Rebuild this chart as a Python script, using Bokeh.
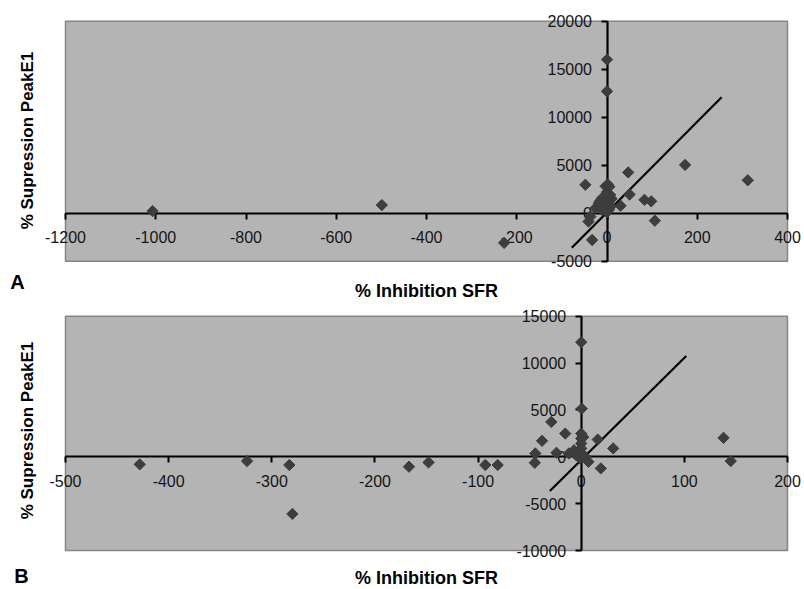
import numpy as np
from bokeh.plotting import figure
from bokeh.layouts import column
from bokeh.models import FixedTicker, Label, Range1d, ColumnDataSource
from bokeh.embed import file_html
from bokeh.resources import INLINE

# ---------------- Panel A data ----------------
a_x = [-1007, -499, -228, -48, -41, -37, -33, -26, -18, -11, -11, -4, -3, 0, 0, 0,
       2, 4, 4, 5, 7, 30, 47, 50, 83, 98, 106, 173, 312, 0, -6, 8, -15, 10, 0]
a_y = [220, 850, -3090, 2960, -870, -350, -2790, 520, 1050, 1570, 350, 870, 2800,
       16000, 12700, 1570, 3000, 1220, 350, 2750, 1900, 780, 4250, 1950, 1390, 1240,
       -780, 5030, 3430, 100, 600, 700, 1300, 1500, 2200]
a_xticks = [-1200, -1000, -800, -600, -400, -200, 0, 200, 400]
a_yticks = [-5000, 0, 5000, 10000, 15000, 20000]
a_xlim = (-1200, 400)
a_ylim = (-5000, 20000)
a_fit_slope, a_fit_intercept = 47.2, 80
a_fit_xspan = [-78, 254]

# ---------------- Panel B data ----------------
b_x = [-428, -324, -283, -280, -167, -148, -93, -81, -44.5, -45, -38, -29, -24,
       -15.5, -12, -5, 0, 0.5, 0, 0, 0, 0, 0, -1, 4, 7, 16, 19, 31, 138, 145, -7, 2]
b_y = [-810, -460, -880, -6100, -1060, -600, -880, -880, 355, -640, 1700, 3720, 425,
       2480, 355, 180, 12230, 5140, 2480, 1950, 1420, 890, 355, -180, 0, -530, 1840,
       -1240, 890, 2020, -460, 700, 2100]
b_xticks = [-500, -400, -300, -200, -100, 0, 100, 200]
b_yticks = [-10000, -5000, 0, 5000, 10000, 15000]
b_xlim = (-500, 200)
b_ylim = (-10000, 15000)
b_fit_slope, b_fit_intercept = 108.9, -340
b_fit_xspan = [-30.4, 101.8]

x_title = "% Inhibition SFR"
y_title = "% Supression PeakE1"

FONT = "Liberation Sans"
BG = "#b4b4b4"
MARK = "#3d3d3d"
W = 804


def panel(xs, ys, xlim, ylim, xticks, yticks, slope, intercept, xspan, letter,
          fig_h, box, letter_px, xlabel_px, ylabel_px):
    left, right, top, bottom = box
    sx = (right - left) / (xlim[1] - xlim[0])
    sy = (bottom - top) / (ylim[1] - ylim[0])
    x0 = xlim[0] - left / sx
    x1 = xlim[1] + (W - right) / sx
    y1 = ylim[1] + top / sy
    y0 = ylim[0] - (fig_h - bottom) / sy

    def dx(px):
        return x0 + px / sx

    def dy(py):
        return y1 - py / sy

    p = figure(output_backend="svg", toolbar_location=None,
               width=W, height=fig_h, min_border=0,
               x_range=Range1d(x0, x1), y_range=Range1d(y0, y1))
    p.background_fill_color = "white"
    p.border_fill_color = "white"
    p.outline_line_color = None
    p.grid.visible = False

    # gray plot area
    p.quad(left=[xlim[0]], right=[xlim[1]], bottom=[ylim[0]], top=[ylim[1]],
           fill_color=BG, line_color="#858585", line_width=1.5)

    for ax, ticks in ((p.xaxis[0], xticks), (p.yaxis[0], yticks)):
        ax.fixed_location = 0
        ax.ticker = FixedTicker(ticks=ticks)
        ax.major_label_overrides = {t: str(t) for t in ticks}
        ax.axis_line_color = "black"
        ax.axis_line_width = 2.2
        ax.major_tick_line_color = "black"
        ax.major_tick_line_width = 2
        ax.major_tick_out = 6
        ax.major_tick_in = 0
        ax.minor_tick_line_color = None
        ax.major_label_text_font = FONT
        ax.major_label_text_font_size = "16px"
        ax.major_label_text_color = "#151515"
    p.xaxis.bounds = xlim
    p.yaxis.bounds = ylim
    p.xaxis.major_label_standoff = 12
    p.yaxis.major_label_standoff = 9

    fx = np.array(xspan, dtype=float)
    fy = slope * fx + intercept
    p.line(fx, fy, line_color="black", line_width=2.2)

    src = ColumnDataSource(dict(x=xs, y=ys))
    p.scatter("x", "y", source=src, marker="square", angle=np.pi / 4,
              size=8, fill_color=MARK, line_color=MARK, level="overlay")

    p.add_layout(Label(x=dx(letter_px[0]), y=dy(letter_px[1]),
                       text=letter, text_font=FONT, text_font_size="20px",
                       text_font_style="bold", text_align="center",
                       text_baseline="middle", text_color="black"))
    p.add_layout(Label(x=dx(xlabel_px[0]), y=dy(xlabel_px[1]),
                       text=x_title, text_font=FONT, text_font_size="18px",
                       text_font_style="bold", text_align="center",
                       text_baseline="middle", text_color="black"))
    p.add_layout(Label(x=dx(ylabel_px[0]), y=dy(ylabel_px[1]),
                       text=y_title, text_font=FONT, text_font_size="17px",
                       text_font_style="bold", text_align="center",
                       text_baseline="middle", angle=90, angle_units="deg",
                       text_color="black"))
    return p


pa = panel(a_x, a_y, a_xlim, a_ylim, a_xticks, a_yticks, a_fit_slope,
           a_fit_intercept, a_fit_xspan, "A", 300, (65, 787, 20.7, 260.7),
           (17, 281), (426, 290), (27, 140))
pb = panel(b_x, b_y, b_xlim, b_ylim, b_xticks, b_yticks, b_fit_slope,
           b_fit_intercept, b_fit_xspan, "B", 289, (65, 787, 15.7, 250),
           (21, 275), (426, 277), (27, 130))

layout = column(pa, pb, spacing=0)
open("out.html", "w").write(file_html(layout, INLINE))
